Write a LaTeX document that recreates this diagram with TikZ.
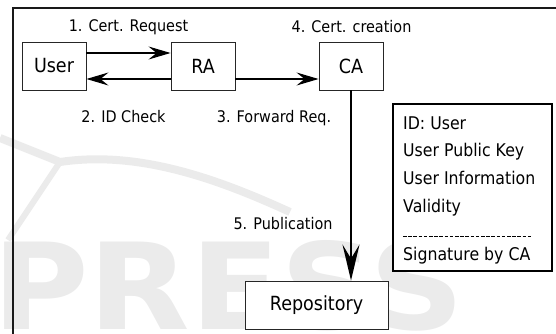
\documentclass[tikz,border=0pt]{standalone}
\usepackage{fontspec}
\setmainfont{DejaVu Sans}[FakeStretch=0.9]
\newfontfamily\wmfont{DejaVu Sans}[FakeStretch=1.1]
\usetikzlibrary{arrows.meta}
\begin{document}
\begin{tikzpicture}[x=1pt,y=-1pt,
  box/.style={draw=black!85, line width=0.9pt, fill=white, minimum width=64pt, minimum height=48pt, inner sep=0pt, font=\fontsize{19.5}{22}\selectfont},
  lbl/.style={anchor=base, font=\fontsize{16}{18}\selectfont, inner sep=0pt},
  info/.style={anchor=base west, font=\fontsize{17.5}{20}\selectfont, inner sep=0pt},
  arr/.style={line width=1.2pt, -{Stealth[length=22pt,width=13pt,inset=8pt]}},
  varr/.style={line width=2pt, -{Stealth[length=36pt,width=17pt,inset=14pt]}}]
\useasboundingbox (0,0) rectangle (556,334);
% watermark
\draw[black!8, line width=8pt] (0,138) .. controls (30,150) and (50,158) .. (60,162) .. controls (140,150) and (220,180) .. (290,212);
\draw[black!8, line width=6pt] (60,162) -- (8,240);
\node[anchor=north west, inner sep=0pt, text=black!8, font=\wmfont\bfseries\fontsize{120}{120}\selectfont] (wm) at (-8,240) {PRESS};
% frame
\draw[black!90, line width=1.4pt] (556,8) -- (13,8) -- (13,334);
% boxes
\node[box] (user) at (54,66) {User};
\node[box] (ra) at (203,66) {RA};
\node[box] (ca) at (351,66) {CA};
\node[box, minimum width=143pt] (repo) at (316.5,305) {Repository};
\node[draw=black, line width=2pt, fill=white, minimum width=159pt, minimum height=167pt, inner sep=0pt] (cert) at (472.5,187.5) {};
% arrows
\draw[arr] ([yshift=13pt]user.east) -- ([yshift=13pt]ra.west);
\draw[arr] ([yshift=-13pt]ra.west) -- ([yshift=-13pt]user.east);
\draw[arr] ([yshift=-13pt]ra.east) -- ([yshift=-13pt]ca.west);
\draw[varr] (ca.south) -- (ca.south |- repo.north);
% labels
\node[lbl] (l1) at (128.5,32) {1. Cert. Request};
\node[lbl] (l2) at (123.5,122.5) {2. ID Check};
\node[lbl] (l3) at (274,122.5) {3. Forward Req.};
\node[lbl] (l4) at (351.5,32.5) {4. Cert. creation};
\node[lbl] (l5) at (283,229) {5. Publication};
% certificate content
\node[info] (i1) at (403,129) {ID: User};
\node[info] (i2) at (403,156.5) {User Public Key};
\node[info] (i3) at (403,184.5) {User Information};
\node[info] (i4) at (403,212.5) {Validity};
\coordinate (d1) at (403,236.5);
\coordinate (d2) at (532,236.5);
\draw[line width=0.8pt, dash pattern=on 3.6pt off 1.6pt] (d1) -- (d2);
\node[info] (i5) at (403,260) {Signature by CA};
\end{tikzpicture}
\end{document}
